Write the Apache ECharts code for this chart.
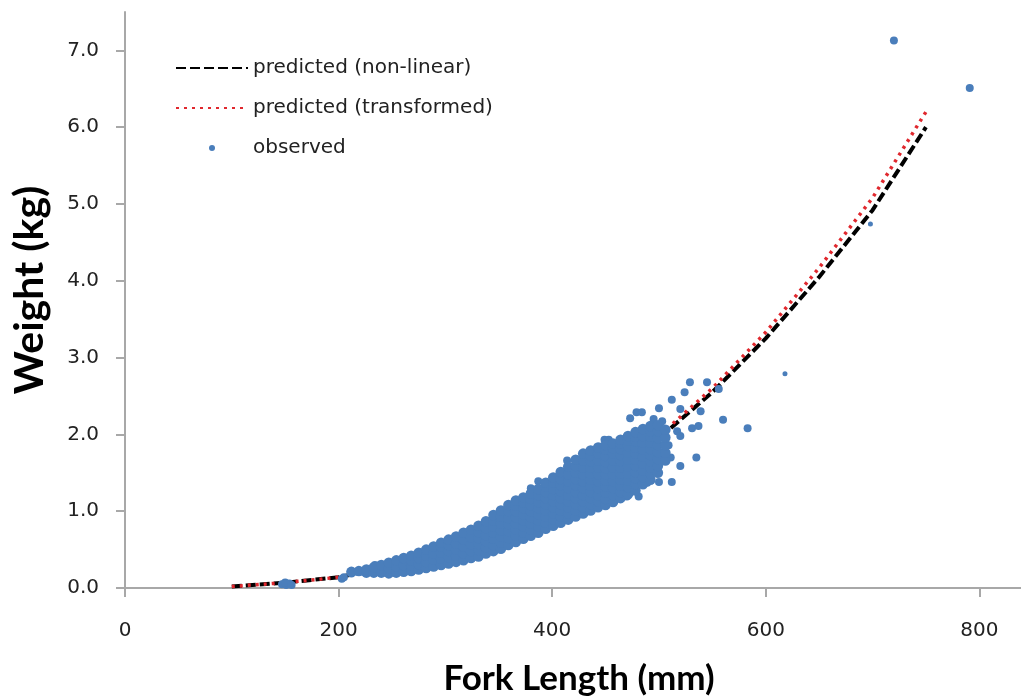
<!DOCTYPE html>
<html>
<head>
<meta charset="utf-8">
<script src="https://cdn.jsdelivr.net/npm/echarts@6/dist/echarts.min.js"></script>
<style>
html, body { margin: 0; padding: 0; background: #fff; }
#chart { width: 1021px; height: 700px; }
</style>
</head>
<body>
<div id="chart"></div>
<script>
// predicted curves
var predLength = [100, 150, 200, 250, 300, 350, 400, 450, 500, 550, 600, 650, 700, 750];
var nonLinear = [0.02, 0.07, 0.14, 0.28, 0.47, 0.73, 1.05, 1.45, 1.95, 2.55, 3.25, 4.05, 4.92, 6.0];
var transformed = [0.02, 0.07, 0.14, 0.28, 0.47, 0.73, 1.06, 1.47, 1.98, 2.6, 3.33, 4.17, 5.08, 6.2];

// observed fish, dense band: one column of weights per length
var bandLength = [212, 219, 226, 233, 240, 247, 254, 261, 268, 275, 282, 289, 296, 303, 310,
    317, 324, 331, 338, 345, 352, 359, 366, 373, 380, 387, 394, 401, 408, 415, 422, 429,
    436, 443, 450, 457, 464, 471, 478, 485, 492, 499, 506];
var bandWeights = [
    [0.21],
    [0.22],
    [0.20, 0.24],
    [0.20, 0.27],
    [0.20, 0.30],
    [0.19, 0.26, 0.33],
    [0.20, 0.28, 0.36],
    [0.21, 0.30, 0.39],
    [0.22, 0.29, 0.36, 0.42],
    [0.24, 0.31, 0.39, 0.46],
    [0.26, 0.34, 0.42, 0.50],
    [0.28, 0.37, 0.45, 0.54],
    [0.30, 0.38, 0.46, 0.54, 0.59],
    [0.32, 0.40, 0.48, 0.56, 0.63],
    [0.34, 0.42, 0.50, 0.58, 0.67],
    [0.36, 0.45, 0.54, 0.63, 0.72],
    [0.39, 0.48, 0.57, 0.66, 0.76],
    [0.41, 0.49, 0.57, 0.65, 0.73, 0.81],
    [0.45, 0.53, 0.61, 0.69, 0.78, 0.87],
    [0.48, 0.56, 0.64, 0.72, 0.80, 0.88, 0.95],
    [0.51, 0.59, 0.67, 0.75, 0.84, 0.93, 1.01],
    [0.56, 0.65, 0.74, 0.83, 0.91, 1.00, 1.08],
    [0.60, 0.68, 0.76, 0.84, 0.92, 1.00, 1.07, 1.14],
    [0.64, 0.72, 0.80, 0.88, 0.96, 1.04, 1.11, 1.18],
    [0.68, 0.76, 0.84, 0.92, 1.00, 1.08, 1.16, 1.23],
    [0.72, 0.80, 0.88, 0.96, 1.04, 1.12, 1.21, 1.29],
    [0.77, 0.85, 0.93, 1.01, 1.09, 1.17, 1.25, 1.32, 1.37],
    [0.81, 0.89, 0.97, 1.05, 1.13, 1.21, 1.29, 1.37, 1.44],
    [0.85, 0.93, 1.01, 1.09, 1.17, 1.26, 1.34, 1.42, 1.51],
    [0.89, 0.97, 1.05, 1.13, 1.21, 1.30, 1.39, 1.48, 1.58],
    [0.93, 1.01, 1.09, 1.17, 1.25, 1.34, 1.42, 1.50, 1.59, 1.67],
    [0.97, 1.05, 1.13, 1.21, 1.30, 1.39, 1.48, 1.57, 1.66, 1.75],
    [1.01, 1.09, 1.17, 1.25, 1.33, 1.41, 1.49, 1.57, 1.65, 1.72, 1.79],
    [1.05, 1.13, 1.21, 1.30, 1.39, 1.48, 1.57, 1.66, 1.75, 1.83],
    [1.08, 1.16, 1.24, 1.32, 1.40, 1.48, 1.56, 1.64, 1.72, 1.80, 1.86],
    [1.12, 1.21, 1.30, 1.39, 1.48, 1.57, 1.66, 1.75, 1.82, 1.88],
    [1.17, 1.25, 1.33, 1.41, 1.49, 1.57, 1.65, 1.73, 1.81, 1.88, 1.93],
    [1.22, 1.31, 1.40, 1.49, 1.58, 1.67, 1.76, 1.85, 1.92, 1.98],
    [1.27, 1.35, 1.43, 1.51, 1.59, 1.67, 1.75, 1.83, 1.91, 1.97, 2.03],
    [1.35, 1.44, 1.53, 1.62, 1.71, 1.80, 1.89, 1.98, 2.07],
    [1.41, 1.49, 1.57, 1.65, 1.73, 1.81, 1.89, 1.97, 2.04, 2.11],
    [1.50, 1.59, 1.68, 1.77, 1.86, 1.95, 2.04, 2.12],
    [1.66, 1.76, 1.86, 1.96, 2.06]
];

// observed fish outside the dense band
var looseLength = [147, 151, 154, 150, 156, 203, 205, 212, 217, 223, 234,
    380, 387, 414, 434, 445, 449, 453, 470, 481, 473, 479, 484, 489, 495, 499, 500, 500, 503,
    509, 511, 512, 512, 517, 520, 520, 520, 524, 529, 531, 535, 537, 539, 545, 556, 560,
    583, 720, 791];
var looseWeight = [0.05, 0.04, 0.06, 0.07, 0.04, 0.12, 0.14, 0.19, 0.21, 0.21, 0.30,
    1.30, 1.39, 1.66, 1.72, 1.84, 1.93, 1.93, 1.19, 1.19, 2.21, 2.29, 2.29, 1.37, 2.20, 1.70, 1.38, 2.34, 2.17,
    1.86, 1.70, 1.38, 2.45, 2.04, 1.59, 1.98, 2.33, 2.55, 2.68, 2.08, 1.70, 2.11, 2.30, 2.68, 2.59, 2.19,
    2.08, 7.13, 6.51];
// two faint single fish
var faintLength = [618, 698];
var faintWeight = [2.79, 4.74];

var xTicks = [0, 200, 400, 600, 800];
var yTicks = [0, 1, 2, 3, 4, 5, 6, 7];

function pairs(xs, ys) {
    return xs.map(function (x, i) { return [x, ys[i]]; });
}

var band = [];
bandLength.forEach(function (len, i) {
    bandWeights[i].forEach(function (w) { band.push([len, w]); });
});

var labelFont = { fontFamily: 'DejaVu Sans', fontSize: 20, color: '#222' };
var nameFont = { fontFamily: 'Lato', fontWeight: 'bold', color: '#000' };
var axisGray = '#a8a8a8';
var blue = '#4a7ebb';

var myChart = echarts.init(document.getElementById('chart'));

option = {
    animation: false,
    backgroundColor: '#fff',
    grid: { left: 125, right: 0, top: 12, bottom: 112, outerBoundsMode: 'none' },
    legend: {
        orient: 'vertical',
        left: 175,
        top: 58,
        padding: 0,
        itemWidth: 72,
        itemHeight: 6,
        itemGap: 20,
        textStyle: { fontFamily: 'DejaVu Sans', fontSize: 20, color: '#222', lineHeight: 20 },
        data: [
            { name: 'predicted (non-linear)', itemStyle: { opacity: 0 } },
            { name: 'predicted (transformed)', itemStyle: { opacity: 0 } },
            { name: 'observed' }
        ]
    },
    xAxis: {
        type: 'value',
        min: 0,
        max: 839,
        name: 'Fork Length (mm)',
        nameLocation: 'middle',
        nameGap: 73,
        nameTextStyle: Object.assign({ fontSize: 35, padding: [0, 0, 0, 12] }, nameFont),
        axisLine: { lineStyle: { color: axisGray, width: 2 } },
        axisTick: { customValues: xTicks, length: 9, lineStyle: { color: axisGray, width: 2 } },
        axisLabel: Object.assign({ customValues: xTicks, margin: 33 }, labelFont),
        splitLine: { show: false }
    },
    yAxis: {
        type: 'value',
        min: 0,
        max: 7.5,
        name: 'Weight (kg)',
        nameLocation: 'middle',
        nameGap: 75,
        nameRotate: 90,
        nameTextStyle: Object.assign({ fontSize: 41, padding: [0, 0, 0, 20] }, nameFont),
        axisLine: { show: true, lineStyle: { color: axisGray, width: 2 } },
        axisTick: { show: true, customValues: yTicks, length: 9, lineStyle: { color: axisGray, width: 2 } },
        axisLabel: Object.assign({
            customValues: yTicks,
            margin: 26,
            formatter: function (v) { return v.toFixed(1); }
        }, labelFont),
        splitLine: { show: false }
    },
    series: [
        {
            name: 'predicted (non-linear)',
            type: 'line',
            data: pairs(predLength, nonLinear),
            symbol: 'none',
            itemStyle: { color: '#000' },
            lineStyle: { color: '#000', width: 4, type: [10, 4] },
            z: 2
        },
        {
            name: 'predicted (transformed)',
            type: 'line',
            data: pairs(predLength, transformed),
            symbol: 'none',
            itemStyle: { color: '#e0282e' },
            lineStyle: { color: '#e0282e', width: 3.5, type: [3, 5] },
            z: 3
        },
        {
            name: 'observed',
            type: 'scatter',
            data: pairs(looseLength, looseWeight),
            symbolSize: 8,
            itemStyle: { color: blue, opacity: 1 },
            z: 4
        },
        {
            name: 'observed',
            type: 'scatter',
            data: band,
            symbolSize: 10.5,
            itemStyle: { color: blue, opacity: 1 },
            z: 4
        },
        {
            name: 'observed',
            type: 'scatter',
            data: pairs(faintLength, faintWeight),
            symbolSize: 5,
            itemStyle: { color: blue, opacity: 1 },
            z: 4
        }
    ]
};

myChart.setOption(option, true);
</script>
</body>
</html>
